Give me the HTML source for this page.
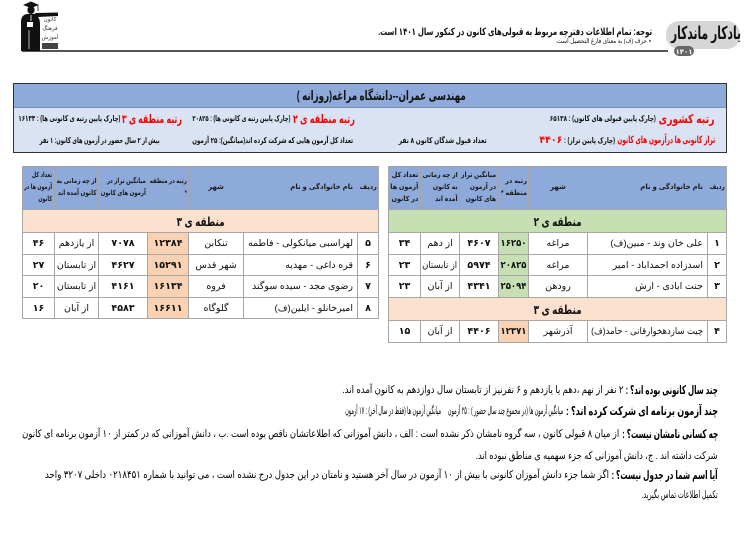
<!DOCTYPE html>
<html lang="fa"><head><meta charset="utf-8">
<style>
*{box-sizing:border-box}
body{margin:0;width:744px;height:533px;position:relative;overflow:hidden;background:#fff;font-family:"Liberation Sans","DejaVu Sans",sans-serif;color:#111}
.fit{position:absolute;white-space:nowrap;direction:rtl;text-align:right;height:16px;line-height:16px}
.fit>span,.fz>span{display:inline-block;transform-origin:100% 50%}
.fz{display:inline-block;white-space:nowrap;direction:rtl;text-align:right}
.b{font-weight:bold}
.red{color:#f00}
.bt{color:#000}
.box{position:absolute;left:13px;top:83px;width:714px;height:70px;border:1.5px solid #333;background:#dae3f3}
.band{position:absolute;left:0;top:0;right:0;height:24px;background:#8eaadb;border-bottom:1px solid #7d8fb3}
.tb{position:absolute;border-collapse:collapse;table-layout:fixed;border:1.5px solid #333}
.tb td{border:1px solid #a6a6a6;padding:0;vertical-align:middle;white-space:nowrap;overflow:hidden;font-size:9.5px;color:#111}
.c{display:flex;justify-content:center;align-items:center;direction:rtl;width:100%}
.c>span{flex-shrink:0;display:inline-block;transform-origin:50% 50%}
.c.n{justify-content:flex-start;padding-right:4px}
.c.n>span{transform-origin:100% 50%}
tr.h td{background:#8eaadb;font-weight:bold;font-size:7px;line-height:12px;color:#1a1a1a}
tr.z td{font-weight:bold;font-size:12.5px;text-align:center}
tr.z2 td{background:#c6e0b4}
tr.z3 td{background:#fce1cf}
td.g{background:#c6e0b4 !important}
td.p{background:#f9d1b3 !important}
td.k{font-weight:bold}
</style></head>
<body>

<svg style="position:absolute;left:0;top:0" width="744" height="60">
 <rect x="22" y="50" width="646" height="2" fill="#555"/>
 <polygon points="23,5 31,1.5 39,5 31,8" fill="#111"/>
 <line x1="38" y1="5" x2="38" y2="11" stroke="#111" stroke-width="0.8"/>
 <ellipse cx="31" cy="10" rx="3.6" ry="4" fill="#111"/>
 <path d="M21,51 L21,22 Q21,15 27,14 L34,14 L36,13 L58,12.5 L58,16 L38,17 Q40,19 40,24 L40,51 Z" fill="#111"/>
 <path d="M27,22 L33,22 L33,27 L27,27 Z" fill="#fff"/>
 <line x1="31" y1="15" x2="31" y2="21" stroke="#fff" stroke-width="0.8"/>
 <line x1="29" y1="30" x2="29" y2="49" stroke="#fff" stroke-width="0.7"/>
 <text x="50" y="21" font-size="5.5" text-anchor="middle" fill="#333" font-family="DejaVu Sans, sans-serif">کانون</text>
 <text x="50" y="30" font-size="5.5" text-anchor="middle" fill="#333" font-family="DejaVu Sans, sans-serif">فرهنگ</text>
 <text x="50" y="39" font-size="5.5" text-anchor="middle" fill="#333" font-family="DejaVu Sans, sans-serif">آموزش</text>
 <rect x="42" y="43" width="16" height="6" fill="#444"/>
 <rect x="666" y="21" width="74" height="28" rx="13" fill="#d6d6d6"/>
 <rect x="674" y="46" width="20" height="10" rx="5" fill="#666"/>
 <text x="684" y="54" fill="#fff" font-size="7" font-weight="bold" text-anchor="middle" font-family="DejaVu Sans, sans-serif">۱۴۰۱</text>
</svg>

<div class="fit b" style="left:671px;top:25px;width:70px;font-size:18px"><span>یادکار ماندکار</span></div>
<div class="fit b" style="left:378px;top:25px;width:274px;font-size:10px"><span>توجه: تمام اطلاعات دفترچه مربوط به قبولی‌های کانون در کنکور سال ۱۴۰۱ است.</span></div>
<div class="fit" style="left:556px;top:34px;width:96px;font-size:6.5px"><span>٭ حرف (ف) به معنای فارغ التحصیل است.</span></div>

<div class="box"><div class="band"></div></div>
<div class="fit b" style="left:297px;top:88px;width:169px;font-size:13px"><span>مهندسی عمران--دانشگاه مراغه(روزانه )</span></div>

<div class="fit b red" style="left:659px;top:111px;width:56px;font-size:12px"><span>رتبه کشوری</span></div>
<div class="fit b" style="left:550px;top:111px;width:106px;font-size:8px"><span>(چارک پایین قبولی های کانون) : ۶۵۱۳۸</span></div>
<div class="fit b red" style="left:293px;top:111px;width:62px;font-size:12px"><span>رتبه منطقه ی ۲</span></div>
<div class="fit b" style="left:192px;top:111px;width:98px;font-size:8px"><span>(چارک پایین رتبه ی کانونی ها) : ۲۰۸۲۵</span></div>
<div class="fit b red" style="left:122px;top:111px;width:60px;font-size:12px"><span>رتبه منطقه ی ۳</span></div>
<div class="fit b" style="left:18px;top:111px;width:102px;font-size:8px"><span>(چارک پایین رتبه ی کانونی ها) : ۱۶۱۳۴</span></div>

<div class="fit b red" style="left:617px;top:133px;width:98px;font-size:10px"><span>تراز کانونی ها درآزمون های کانون</span></div>
<div class="fit b" style="left:564px;top:133px;width:51px;font-size:8px"><span>(چارک پایین تراز) :</span></div>
<div class="fit b red" style="left:539px;top:133px;width:23px;font-size:10px"><span>۴۴۰۶</span></div>
<div class="fit b" style="left:399px;top:133px;width:88px;font-size:8px"><span>تعداد قبول شدگان کانون ۸ نفر</span></div>
<div class="fit b" style="left:192px;top:133px;width:161px;font-size:8px"><span>تعداد کل آزمون هایی که شرکت کرده اند(میانگین): ۲۵ آزمون</span></div>
<div class="fit b" style="left:40px;top:133px;width:120px;font-size:8px"><span>بیش از ۲ سال حضور در آزمون های کانون: ۱ نفر</span></div>

<!-- Right table -->
<table class="tb" style="left:388px;top:166px;width:338px">
<colgroup><col style="width:32px"><col style="width:39px"><col style="width:39px"><col style="width:30px"><col style="width:59px"><col style="width:120px"><col style="width:19px"></colgroup>
<tr class="h" style="height:43px">
<td><div class="c"><span>تعداد کل<br>آزمون ها<br>در کانون</span></div></td>
<td><div class="c"><span>از چه زمانی<br>به کانون<br>آمده اند</span></div></td>
<td><div class="c"><span>میانگین تراز<br>در آزمون<br>های کانون</span></div></td>
<td><div class="c"><span>رتبه در<br>منطقه *</span></div></td>
<td><div class="c"><span>شهر</span></div></td>
<td><div class="c n"><span>نام خانوادگی و نام</span></div></td>
<td><div class="c"><span>ردیف</span></div></td>
</tr>
<tr class="z z2" style="height:23px"><td colspan="7"><span class="fz" style="width:48px"><span>منطقه ی ۲</span></span></td></tr>
<tr style="height:22px">
<td class="k"><div class="c"><span>۳۴</span></div></td>
<td><div class="c"><span>از دهم</span></div></td>
<td class="k"><div class="c"><span>۴۶۰۷</span></div></td>
<td class="k g"><div class="c"><span>۱۶۲۵۰</span></div></td>
<td><div class="c"><span>مراغه</span></div></td>
<td><div class="c n"><span>علی خان وند - مبین(ف)</span></div></td>
<td class="k"><div class="c"><span>۱</span></div></td>
</tr>
<tr style="height:21px">
<td class="k"><div class="c"><span>۲۳</span></div></td>
<td><div class="c"><span>از تابستان</span></div></td>
<td class="k"><div class="c"><span>۵۹۷۴</span></div></td>
<td class="k g"><div class="c"><span>۲۰۸۲۵</span></div></td>
<td><div class="c"><span>مراغه</span></div></td>
<td><div class="c n"><span>اسدزاده احمداباد - امیر</span></div></td>
<td class="k"><div class="c"><span>۲</span></div></td>
</tr>
<tr style="height:22px">
<td class="k"><div class="c"><span>۲۳</span></div></td>
<td><div class="c"><span>از آبان</span></div></td>
<td class="k"><div class="c"><span>۴۳۴۱</span></div></td>
<td class="k g"><div class="c"><span>۲۵۰۹۴</span></div></td>
<td><div class="c"><span>رودهن</span></div></td>
<td><div class="c n"><span>جنت ابادی - ارش</span></div></td>
<td class="k"><div class="c"><span>۳</span></div></td>
</tr>
<tr class="z z3" style="height:23px"><td colspan="7"><span class="fz" style="width:48px"><span>منطقه ی ۳</span></span></td></tr>
<tr style="height:22px">
<td class="k"><div class="c"><span>۱۵</span></div></td>
<td><div class="c"><span>از آبان</span></div></td>
<td class="k"><div class="c"><span>۴۴۰۶</span></div></td>
<td class="k p"><div class="c"><span>۱۲۳۷۱</span></div></td>
<td><div class="c"><span>آذرشهر</span></div></td>
<td><div class="c n"><span>چیت سازدهخوارقانی - حامد(ف)</span></div></td>
<td class="k"><div class="c"><span>۴</span></div></td>
</tr>
</table>

<!-- Left table -->
<table class="tb" style="left:22px;top:166px;width:356px">
<colgroup><col style="width:32px"><col style="width:44px"><col style="width:49px"><col style="width:41px"><col style="width:55px"><col style="width:114px"><col style="width:21px"></colgroup>
<tr class="h" style="height:43px">
<td><div class="c"><span>تعداد کل<br>آزمون ها در<br>کانون</span></div></td>
<td><div class="c"><span>از چه زمانی به<br>کانون آمده اند</span></div></td>
<td><div class="c"><span>میانگین تراز در<br>آزمون های کانون</span></div></td>
<td><div class="c"><span>رتبه در منطقه<br>*</span></div></td>
<td><div class="c"><span>شهر</span></div></td>
<td><div class="c n"><span>نام خانوادگی و نام</span></div></td>
<td><div class="c"><span>ردیف</span></div></td>
</tr>
<tr class="z z3" style="height:23px"><td colspan="7"><span class="fz" style="width:48px"><span>منطقه ی ۳</span></span></td></tr>
<tr style="height:22px">
<td class="k"><div class="c"><span>۴۶</span></div></td>
<td><div class="c"><span>از یازدهم</span></div></td>
<td class="k"><div class="c"><span>۷۰۷۸</span></div></td>
<td class="k p"><div class="c"><span>۱۲۳۸۴</span></div></td>
<td><div class="c"><span>تنکابن</span></div></td>
<td><div class="c n"><span>لهراسبی میانکولی - فاطمه</span></div></td>
<td class="k"><div class="c"><span>۵</span></div></td>
</tr>
<tr style="height:21px">
<td class="k"><div class="c"><span>۲۷</span></div></td>
<td><div class="c"><span>از تابستان</span></div></td>
<td class="k"><div class="c"><span>۴۶۲۷</span></div></td>
<td class="k p"><div class="c"><span>۱۵۲۹۱</span></div></td>
<td><div class="c"><span>شهر قدس</span></div></td>
<td><div class="c n"><span>قره داغی - مهدیه</span></div></td>
<td class="k"><div class="c"><span>۶</span></div></td>
</tr>
<tr style="height:22px">
<td class="k"><div class="c"><span>۲۰</span></div></td>
<td><div class="c"><span>از تابستان</span></div></td>
<td class="k"><div class="c"><span>۴۱۶۱</span></div></td>
<td class="k p"><div class="c"><span>۱۶۱۳۴</span></div></td>
<td><div class="c"><span>فروه</span></div></td>
<td><div class="c n"><span>رضوی مجد - سیده سوگند</span></div></td>
<td class="k"><div class="c"><span>۷</span></div></td>
</tr>
<tr style="height:21px">
<td class="k"><div class="c"><span>۱۶</span></div></td>
<td><div class="c"><span>از آبان</span></div></td>
<td class="k"><div class="c"><span>۴۵۸۳</span></div></td>
<td class="k p"><div class="c"><span>۱۶۶۱۱</span></div></td>
<td><div class="c"><span>گلوگاه</span></div></td>
<td><div class="c n"><span>امیرخانلو - ایلین(ف)</span></div></td>
<td class="k"><div class="c"><span>۸</span></div></td>
</tr>
</table>

<!-- Bottom text -->
<div class="fit b bt" style="left:626px;top:382px;width:92px;font-size:12px"><span>چند سال کانونی بوده اند؟ :</span></div>
<div class="fit bt" style="left:342px;top:382px;width:281px;font-size:10.5px"><span>۲ نفر از نهم ،دهم یا یازدهم و ۶ نفرنیز از تابستان سال دوازدهم به کانون آمده اند.</span></div>

<div class="fit b bt" style="left:566px;top:403px;width:152px;font-size:12px"><span>چند آزمون برنامه ای شرکت کرده اند؟ :</span></div>
<div class="fit bt" style="left:345px;top:403px;width:218px;font-size:10.5px"><span>میانگین آزمون ها (در مجموع چند سال حضور ) : ۲۵ آزمون&nbsp;&nbsp;&nbsp;&nbsp; میانگین آزمون ها (فقط در سال آخر) : ۱۷ آزمون</span></div>

<div class="fit b bt" style="left:622px;top:426px;width:96px;font-size:12px"><span>چه کسانی نامشان نیست؟ :</span></div>
<div class="fit bt" style="left:22px;top:426px;width:597px;font-size:10.5px"><span>از میان ۸ قبولی کانون ، سه گروه نامشان ذکر نشده است : الف ، دانش آموزانی که اطلاعاتشان ناقص بوده است .ب ، دانش آموزانی که در کمتر از ۱۰ آزمون برنامه ای کانون</span></div>

<div class="fit bt" style="left:476px;top:448px;width:242px;font-size:10.5px"><span>شرکت داشته اند . ج، دانش آموزانی که جزء سهمیه ی مناطق نبوده اند.</span></div>

<div class="fit b bt" style="left:612px;top:467px;width:106px;font-size:12px"><span>آیا اسم شما در جدول نیست؟ :</span></div>
<div class="fit bt" style="left:45px;top:467px;width:564px;font-size:10.5px"><span>اگر شما جزء دانش آموزان کانونی با بیش از ۱۰ آزمون در سال آخر هستید و نامتان در این جدول درج نشده است ، می توانید با شماره ۰۲۱۸۴۵۱ داخلی ۳۲۰۷ واحد</span></div>

<div class="fit bt" style="left:642px;top:487px;width:76px;font-size:10.5px"><span>تکمیل اطلاعات تماس بگیرید.</span></div>

<script>
(function(){
function run(){
 var a=document.querySelectorAll('.fit,.fz');
 for(var i=0;i<a.length;i++){var d=a[i],s=d.firstElementChild;if(!s)continue;s.style.transform='none';var w=s.getBoundingClientRect().width;var W=d.getBoundingClientRect().width;if(w>0&&W>0)s.style.transform='scaleX('+(W/w).toFixed(4)+')';}
 var b=document.querySelectorAll('.c>span');
 for(var j=0;j<b.length;j++){var s2=b[j],p=s2.parentElement;s2.style.transform='none';var cs=getComputedStyle(p);var W2=p.clientWidth-parseFloat(cs.paddingLeft)-parseFloat(cs.paddingRight)-3;var w2=s2.getBoundingClientRect().width;if(w2>W2&&w2>0)s2.style.transform='scaleX('+(W2/w2).toFixed(4)+')';}
}
run();
if(document.fonts&&document.fonts.ready){document.fonts.ready.then(run);}
})();
</script>
</body></html>
